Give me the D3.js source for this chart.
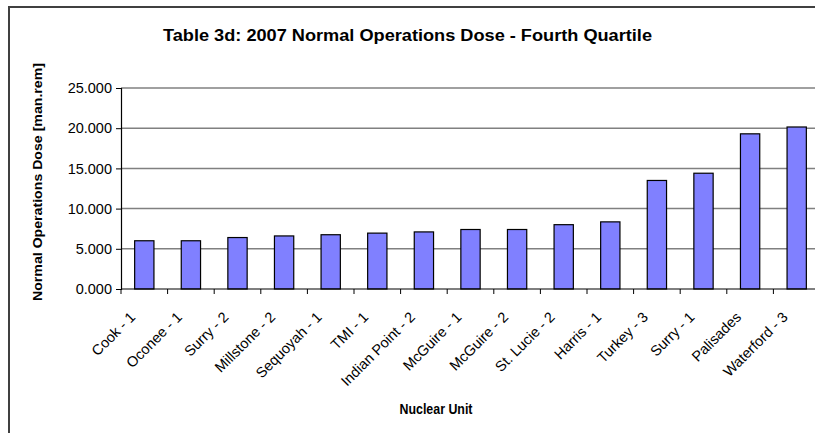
<!DOCTYPE html>
<html>
<head>
<meta charset="utf-8">
<script src="https://cdn.jsdelivr.net/npm/d3@7"></script>
<style>
  html, body { margin: 0; padding: 0; background: #fff; }
  svg { display: block; font-family: "Liberation Sans", Arial, sans-serif; }
</style>
</head>
<body>
<svg id="chart" width="815" height="433"></svg>
<script>
const categories = ["Cook - 1", "Oconee - 1", "Surry - 2", "Millstone - 2", "Sequoyah - 1", "TMI - 1",
  "Indian Point - 2", "McGuire - 1", "McGuire - 2", "St. Lucie - 2", "Harris - 1", "Turkey - 3",
  "Surry - 1", "Palisades", "Waterford - 3"];
const doseValues = [6.0, 6.0, 6.4, 6.6, 6.75, 6.95, 7.1, 7.4, 7.4, 8.0, 8.35, 13.5, 14.4, 19.3, 20.15];
const yTicks = [0, 5, 10, 15, 20, 25];
const titleText = "Table 3d: 2007 Normal Operations Dose - Fourth Quartile";
const yTitle = "Normal Operations Dose [man.rem]";
const xTitle = "Nuclear Unit";

const svg = d3.select("#chart");
const plot = { left: 121, right: 820, top: 88, bottom: 289 };

// outer frame
svg.append("rect").attr("x", 9).attr("y", 7).attr("width", 830).attr("height", 440)
  .attr("fill", "#fff").attr("stroke", "#404040").attr("stroke-width", 2);

const x = d3.scaleBand().domain(categories).range([plot.left, plot.right])
  .paddingInner(0.586).paddingOuter(0.293);
const y = d3.scaleLinear().domain([0, 25]).range([plot.bottom, plot.top]);

// gridlines
svg.append("g").selectAll("line").data(yTicks.filter(d => d > 0)).join("line")
  .attr("x1", plot.left).attr("x2", plot.right)
  .attr("y1", d => y(d)).attr("y2", d => y(d))
  .attr("stroke", "#808080").attr("stroke-width", 1.5);

// bars
svg.append("g").selectAll("rect").data(categories).join("rect")
  .attr("x", d => x(d)).attr("width", x.bandwidth())
  .attr("y", (d, i) => y(doseValues[i])).attr("height", (d, i) => y(0) - y(doseValues[i]))
  .attr("fill", "#8080ff").attr("stroke", "#000").attr("stroke-width", 1.2);

// y axis
const yAxis = svg.append("g").attr("transform", `translate(${plot.left},0)`)
  .call(d3.axisLeft(y).tickValues(yTicks).tickFormat(d3.format(".3f")).tickSize(5).tickPadding(4));
yAxis.select(".domain").attr("stroke", "#000").attr("stroke-width", 1.2);
yAxis.selectAll(".tick line").attr("stroke", "#000");
yAxis.selectAll("text").attr("font-size", 14.5).attr("fill", "#000")
  .attr("font-family", "'Liberation Sans', Arial, sans-serif");

// x axis baseline and ticks at band boundaries
svg.append("line").attr("x1", plot.left).attr("x2", plot.right)
  .attr("y1", plot.bottom).attr("y2", plot.bottom).attr("stroke", "#000").attr("stroke-width", 1.2);
const step = x.step();
svg.append("g").selectAll("line").data(categories).join("line")
  .attr("x1", d => x(d) - step * 0.293)
  .attr("x2", d => x(d) - step * 0.293)
  .attr("y1", plot.bottom).attr("y2", plot.bottom + 5)
  .attr("stroke", "#000");

// x labels
svg.append("g").selectAll("text").data(categories).join("text")
  .attr("transform", d => `translate(${x(d) + x.bandwidth() / 2 - 8},${plot.bottom + 29}) rotate(-45)`)
  .attr("text-anchor", "end")
  .attr("font-size", 14.5)
  .attr("fill", "#000")
  .text(d => d);

// title
svg.append("text").attr("x", 407.5).attr("y", 41).attr("text-anchor", "middle")
  .attr("font-size", 16).attr("font-weight", "bold")
  .attr("textLength", 489).attr("lengthAdjust", "spacingAndGlyphs").text(titleText);

// y title
svg.append("text").attr("transform", `translate(42,182) rotate(-90)`)
  .attr("text-anchor", "middle").attr("font-size", 13.5).attr("font-weight", "bold")
  .attr("textLength", 238).attr("lengthAdjust", "spacingAndGlyphs").text(yTitle);

// x title
svg.append("text").attr("x", 436).attr("y", 414).attr("text-anchor", "middle")
  .attr("font-size", 14).attr("font-weight", "bold")
  .attr("textLength", 73).attr("lengthAdjust", "spacingAndGlyphs").text(xTitle);
</script>
</body>
</html>
